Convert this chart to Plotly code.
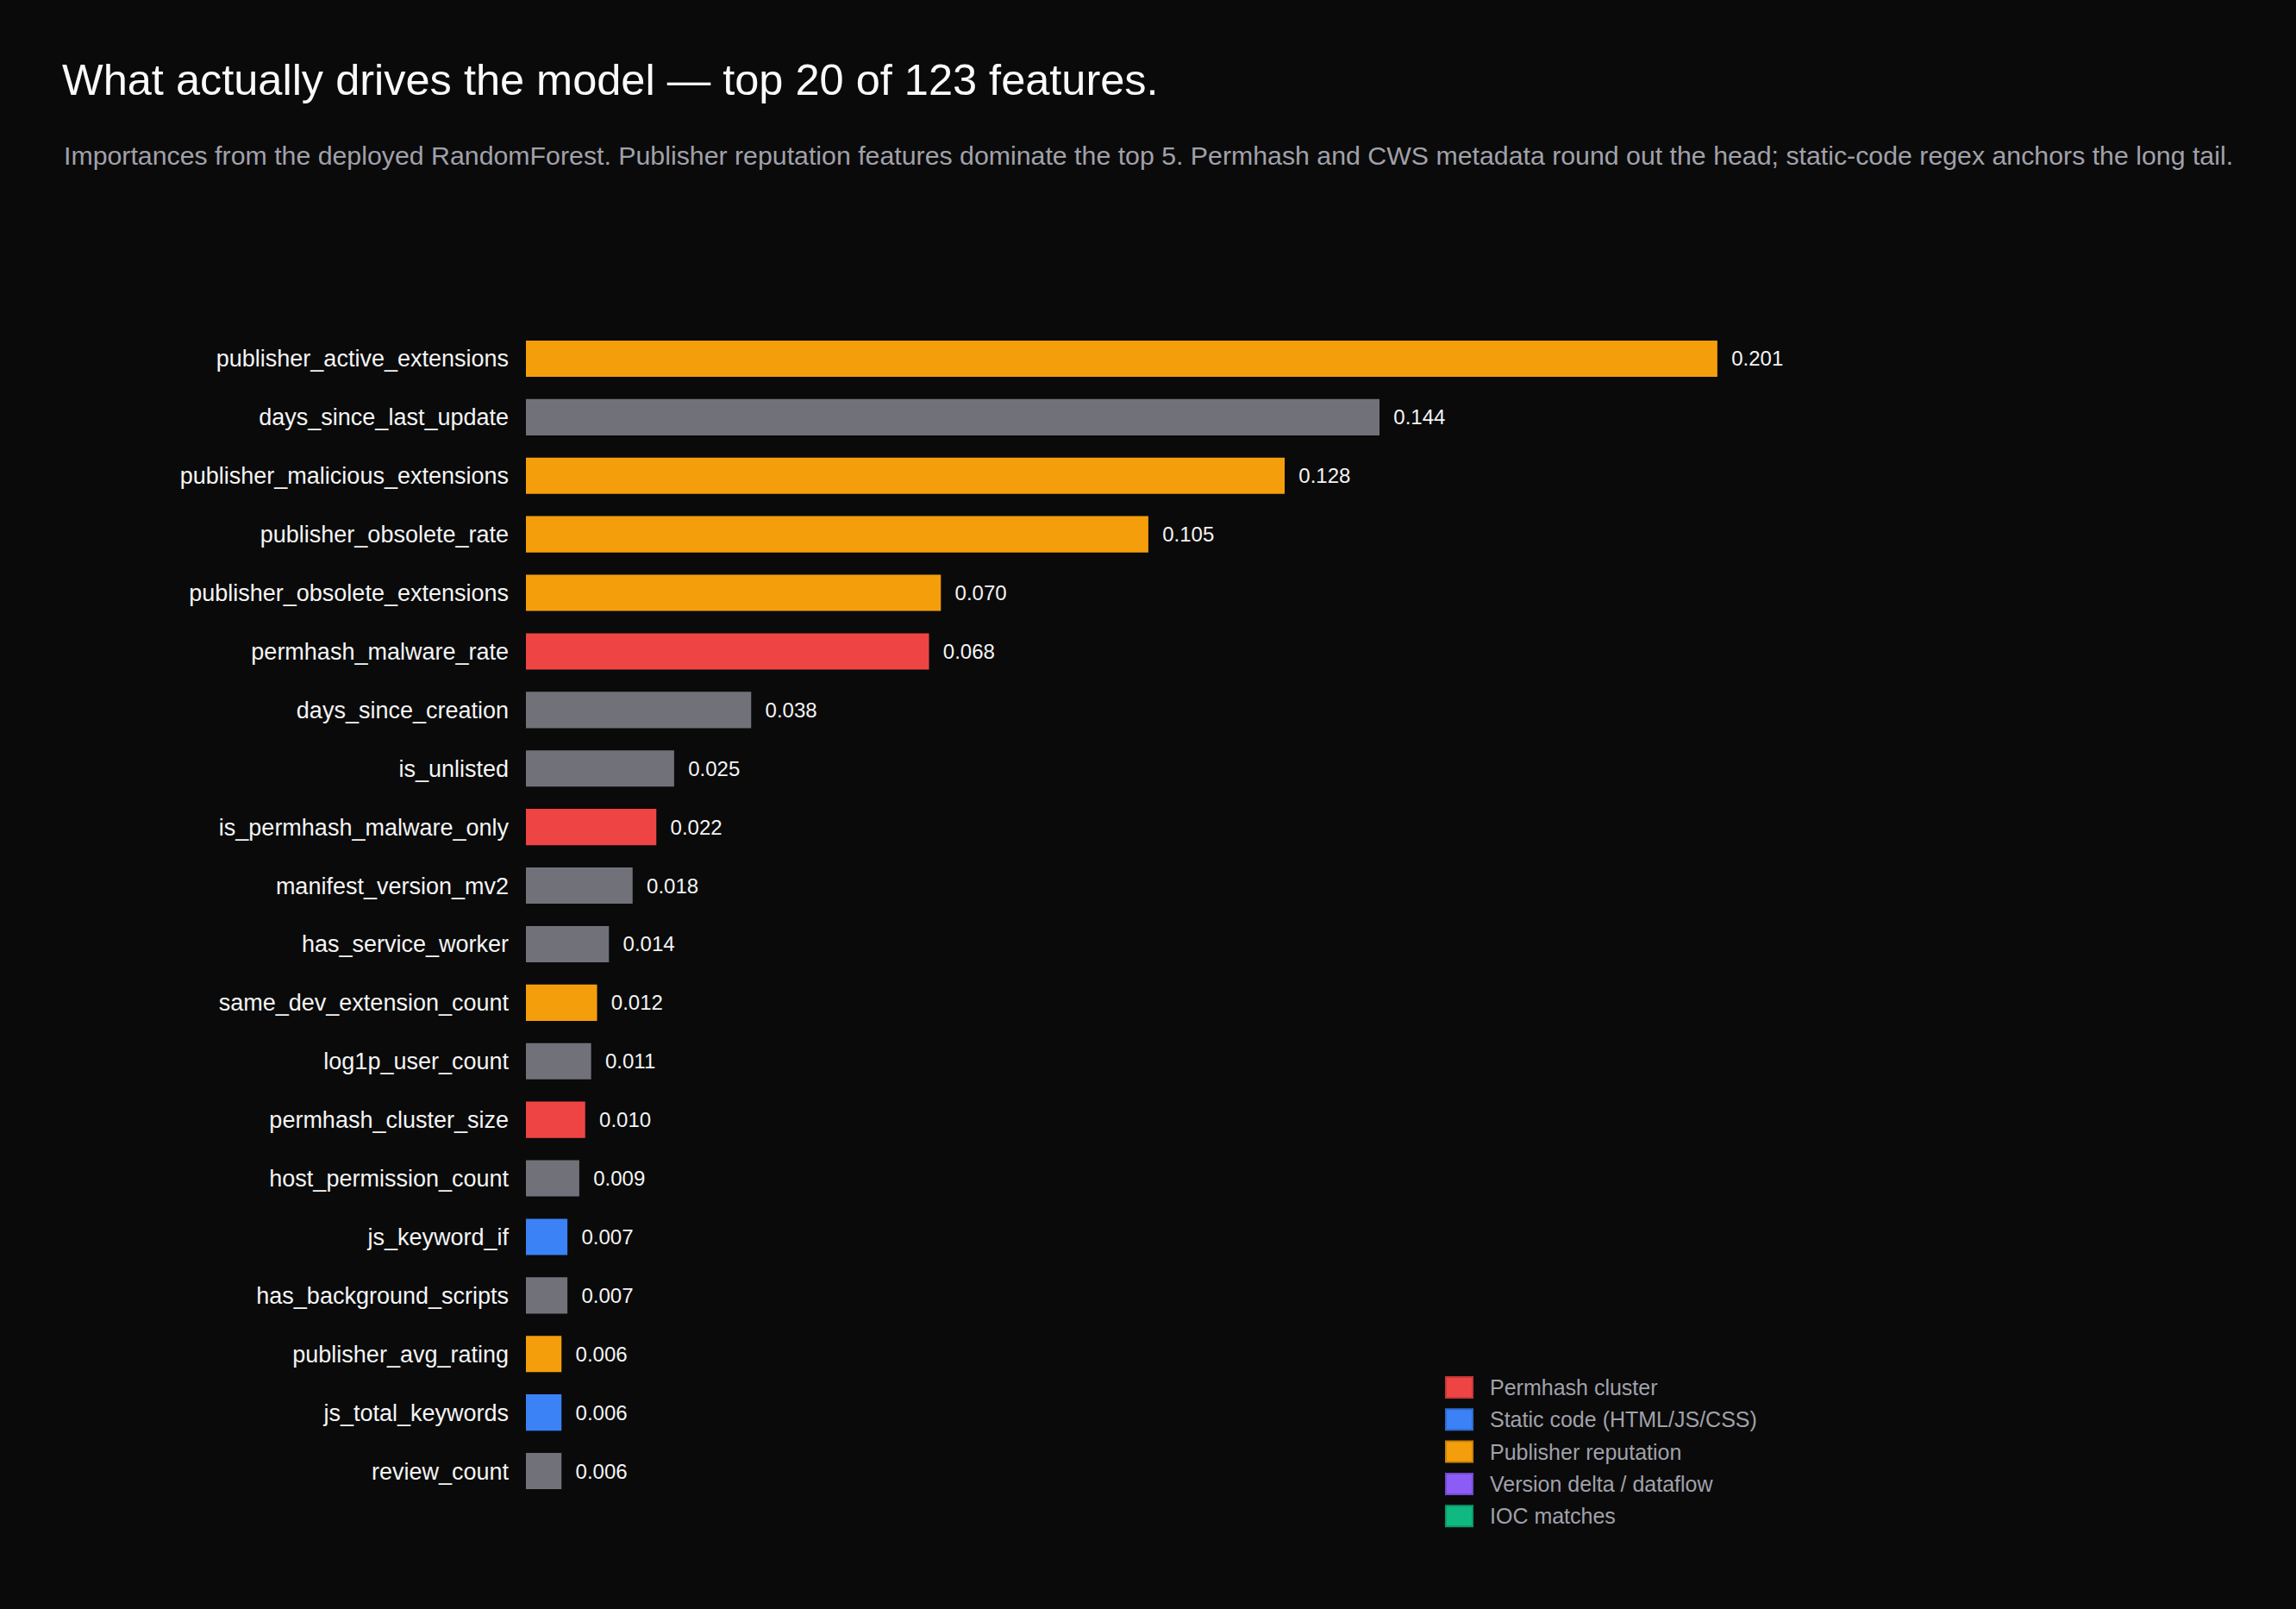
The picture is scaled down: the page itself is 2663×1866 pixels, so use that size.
import plotly.graph_objects as go

# feature importances, top 20 (most important first)
features = [
    "publisher_active_extensions", "days_since_last_update", "publisher_malicious_extensions",
    "publisher_obsolete_rate", "publisher_obsolete_extensions", "permhash_malware_rate",
    "days_since_creation", "is_unlisted", "is_permhash_malware_only", "manifest_version_mv2",
    "has_service_worker", "same_dev_extension_count", "log1p_user_count", "permhash_cluster_size",
    "host_permission_count", "js_keyword_if", "has_background_scripts", "publisher_avg_rating",
    "js_total_keywords", "review_count",
]
importances = [
    0.201, 0.144, 0.128, 0.105, 0.070, 0.068, 0.038, 0.025, 0.022, 0.018,
    0.014, 0.012, 0.011, 0.010, 0.009, 0.007, 0.007, 0.006, 0.006, 0.006,
]
groups = [
    "pub", "other", "pub", "pub", "pub", "perm", "other", "other", "perm", "other",
    "other", "pub", "other", "perm", "other", "static", "other", "pub", "static", "other",
]

legend_groups = ["perm", "static", "pub", "delta", "ioc"]
group_labels = {
    "perm": "Permhash cluster",
    "static": "Static code (HTML/JS/CSS)",
    "pub": "Publisher reputation",
    "delta": "Version delta / dataflow",
    "ioc": "IOC matches",
    "other": "Other",
}
group_colors = {
    "perm": "#ef4444",
    "static": "#3b82f6",
    "pub": "#f59e0b",
    "delta": "#8b5cf6",
    "ioc": "#10b981",
    "other": "#71717a",
}
border_colors = {
    "perm": "#c53838",
    "static": "#306bcb",
    "pub": "#c98209",
    "delta": "#724bcb",
    "ioc": "#0d9869",
}

W, H = 2663, 1866
ML, MR, MT, MB = 610, 403, 382, 126
PW, PH = W - ML - MR, H - MT - MB
XMAX = 0.24
FONT = "Liberation Sans"


def px_x(px):
    return (px - ML) / PW


def px_y(py):
    return 1 - (py - MT) / PH


fig = go.Figure()
for g in legend_groups + ["other"]:
    xs = [v for v, gg in zip(importances, groups) if gg == g]
    ys = [f for f, gg in zip(features, groups) if gg == g]
    if not xs:
        continue
    fig.add_trace(go.Bar(
        x=xs, y=ys, orientation="h", name=group_labels[g],
        marker=dict(color=group_colors[g], line=dict(width=0)),
        text=["%.3f" % v for v in xs], texttemplate="  %{text}",
        textposition="outside",
        textfont=dict(color="#f4f4f5", size=24, family=FONT),
        cliponaxis=False, showlegend=False,
        hoverinfo="x+y",
    ))

# legend drawn by hand so the swatches can be large squares
for i, g in enumerate(legend_groups):
    cy = 1609 + i * 37.3
    fig.add_shape(
        type="rect", xref="paper", yref="paper",
        x0=px_x(1677), x1=px_x(1708), y0=px_y(cy + 12), y1=px_y(cy - 12),
        fillcolor=group_colors[g], line=dict(color=border_colors[g], width=2),
    )
    fig.add_annotation(
        text=group_labels[g], xref="paper", yref="paper",
        x=px_x(1726), xanchor="left", y=px_y(cy), yanchor="middle",
        showarrow=False, font=dict(size=25, color="#a1a1aa", family=FONT),
    )

fig.update_layout(
    width=W, height=H,
    paper_bgcolor="#0a0a0a", plot_bgcolor="#0a0a0a",
    margin=dict(l=ML, r=MR, t=MT, b=MB, autoexpand=False),
    barmode="overlay", bargap=0.38,
    font=dict(family=FONT, color="#e4e4e7"),
    title=dict(
        text="What actually drives the model — top 20 of 123 features.",
        x=72 / W, xanchor="left", xref="container",
        y=1 - 92 / H, yanchor="middle", yref="container",
        font=dict(size=50.5, color="#fafafa", family=FONT),
    ),
    xaxis=dict(range=[0, XMAX], visible=False, showgrid=False, zeroline=False),
    yaxis=dict(
        categoryorder="array", categoryarray=features, autorange="reversed",
        showgrid=False, zeroline=False, showline=False, ticks="",
        tickfont=dict(size=27, color="#f4f4f5", family=FONT),
        ticklabelstandoff=19,
    ),
    showlegend=False,
)

fig.add_annotation(
    text="Importances from the deployed RandomForest. Publisher reputation features dominate the top 5. "
         "Permhash and CWS metadata round out the head; static-code regex anchors the long tail.",
    xref="paper", yref="paper",
    x=px_x(72), xanchor="left", y=px_y(180), yanchor="middle",
    showarrow=False, align="left",
    font=dict(size=30.3, color="#a1a1aa", family=FONT),
)

fig.write_html(
    "out.html",
    config={"displayModeBar": False},
    post_script="document.body.style.margin='0';document.body.style.background='#0a0a0a';",
)
